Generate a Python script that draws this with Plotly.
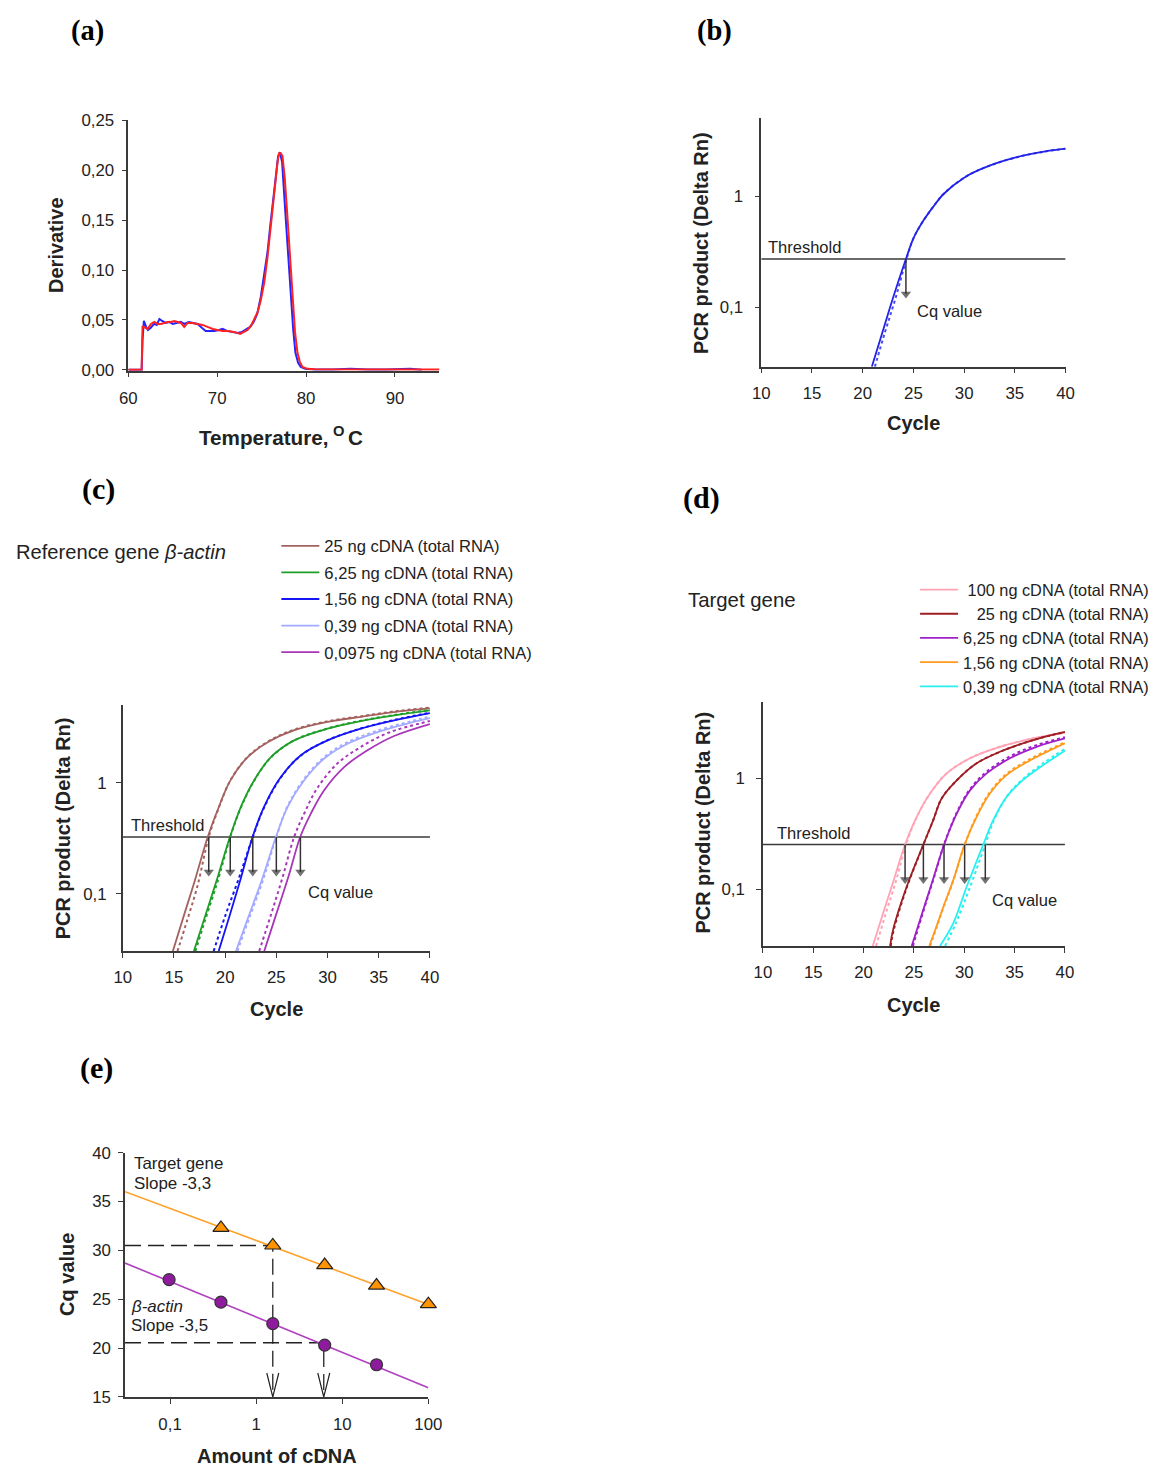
import numpy as np
import plotly.graph_objects as go

W, H = 1163, 1466
# measured mapping of figure pixels onto the photographed page
SX, SY = 0.9815, 0.988
OX, OY = 15.85, 16.0
FIG_W = int(round((W - OX) / SX))
FIG_H = int(round((H - OY) / SY))
FS = 1.0 / SX                   # font compensation
FONT = "Liberation Sans, Arial, Helvetica, sans-serif"
SERIF = "Liberation Serif, Times New Roman, serif"

# ---------------- (a) melt curves ----------------
melt_temp_red = [60, 61.5, 61.6, 61.72, 62.17, 62.55, 62.92, 63.3, 63.67, 64.05,
                 64.42, 64.8, 65.17, 65.55, 65.92, 66.29, 66.67, 67.2, 67.79, 68.35,
                 68.91, 69.5, 70.04, 70.6, 71.16, 71.9, 72.58, 73.0, 73.41, 73.8,
                 74.16, 74.55, 74.91, 75.3, 75.66, 75.95, 76.22, 76.4, 76.59, 76.8,
                 76.97, 77.15, 77.34, 77.6, 77.9, 78.2, 78.46, 78.75, 79.03, 79.3,
                 79.59, 80.15, 81, 83, 86, 89, 92, 95]
melt_deriv_red = [0, 0, 0.044, 0.043, 0.041, 0.046, 0.048, 0.046, 0.046, 0.047,
                  0.048, 0.048, 0.049, 0.048, 0.047, 0.043, 0.047, 0.047, 0.046, 0.045,
                  0.043, 0.041, 0.040, 0.039, 0.039, 0.038, 0.036, 0.038, 0.040, 0.044,
                  0.050, 0.058, 0.070, 0.088, 0.113, 0.137, 0.160, 0.178, 0.196, 0.209,
                  0.217, 0.217, 0.214, 0.192, 0.153, 0.108, 0.070, 0.038, 0.017, 0.008,
                  0.003, 0.001, 0.0005, 0.0003, 0.0005, 0.0004, 0.0003, 0.0003]
melt_temp_blue = [60, 61.5, 61.6, 61.75, 62.0, 62.2, 62.5, 62.9, 63.2, 63.5,
                  63.8, 64.2, 64.6, 65.0, 65.4, 65.9, 66.3, 66.8, 67.3, 67.8,
                  68.3, 68.7, 69.2, 69.7, 70.2, 70.6, 71.1, 71.7, 72.3, 72.8,
                  73.3, 73.7, 74.1, 74.5, 74.9, 75.3, 75.66, 75.95, 76.22, 76.45,
                  76.65, 76.85, 77.05, 77.3, 77.7, 78.0, 78.3, 78.55, 78.8, 79.1,
                  79.4, 79.9, 81, 83, 85, 87, 89, 91.7, 93]
melt_deriv_blue = [0, 0, 0.030, 0.049, 0.043, 0.040, 0.042, 0.046, 0.045, 0.051,
                   0.049, 0.047, 0.048, 0.046, 0.047, 0.048, 0.046, 0.048, 0.047, 0.046,
                   0.042, 0.039, 0.039, 0.039, 0.040, 0.041, 0.039, 0.038, 0.037, 0.038,
                   0.041, 0.043, 0.048, 0.056, 0.073, 0.095, 0.118, 0.143, 0.166, 0.186,
                   0.203, 0.214, 0.218, 0.208, 0.153, 0.110, 0.070, 0.040, 0.017, 0.007,
                   0.003, 0.001, 0.0004, 0.0003, 0.001, 0.0003, 0.0004, 0.001, 0.0002]
a_xticks = [60, 70, 80, 90]
a_yticks = [0, 0.05, 0.10, 0.15, 0.20, 0.25]
a_yticktext = ["0,00", "0,05", "0,10", "0,15", "0,20", "0,25"]

# ---------------- (b) single amplification curve ----------------
b_cycle = [20.9, 22.0, 23.0, 24.26, 25.0, 26.0, 27.0, 28.0, 30.0, 32.0, 35.0, 38.0, 40.0]
b_rn = [0.0292, 0.062, 0.123, 0.273, 0.42, 0.61, 0.82, 1.06, 1.48, 1.82, 2.24, 2.55, 2.7]
b_cycle_dot = [21.2, 22.2, 23.2, 24.3, 25.0, 26.0, 27.0, 28.0, 30.0, 32.0, 35.0, 38.0, 40.0]
b_rn_dot = [0.0292, 0.06, 0.118, 0.27, 0.42, 0.61, 0.82, 1.06, 1.48, 1.82, 2.24, 2.55, 2.7]
b_threshold = 0.273
b_cq = 24.26

cycle_ticks = [10, 15, 20, 25, 30, 35, 40]
log_ticks = [0.1, 1]
log_ticktext = ["0,1", "1"]

# ---------------- (c) reference gene beta-actin ----------------
c_labels = ["25 ng cDNA (total RNA)", "6,25 ng cDNA (total RNA)", "1,56 ng cDNA (total RNA)",
            "0,39 ng cDNA (total RNA)", "0,0975 ng cDNA (total RNA)"]
c_colors = ["#A4625F", "#1F9E2A", "#1414F5", "#A3AAFF", "#A836B8"]
c1_cycle = [14.9, 16.0, 17.0, 18.3, 19.3, 20.5, 22.2, 24.2, 26.7, 30.0, 33.3, 36.5, 40.0]
c1_rn = [0.0305, 0.065, 0.128, 0.326, 0.58, 1.05, 1.71, 2.34, 2.98, 3.55, 3.95, 4.36, 4.7]
c1d_cycle = [15.35, 16.3, 17.3, 18.4, 19.3, 20.5, 22.2, 24.2, 26.7, 30.0, 33.3, 36.5, 40.0]
c1d_rn = [0.0305, 0.058, 0.118, 0.326, 0.57, 1.05, 1.72, 2.37, 3.02, 3.6, 4.0, 4.42, 4.78]
c2_cycle = [16.95, 18.0, 19.2, 20.47, 21.54, 22.84, 24.47, 26.74, 30.0, 33.25, 36.5, 40.0]
c2_rn = [0.0305, 0.061, 0.135, 0.326, 0.61, 1.06, 1.71, 2.42, 3.09, 3.62, 4.07, 4.52]
c2d_cycle = [17.1, 18.1, 19.3, 20.5, 21.54, 22.84, 24.47, 26.74, 30.0, 33.25, 36.5, 40.0]
c2d_rn = [0.0305, 0.06, 0.133, 0.326, 0.6, 1.05, 1.7, 2.42, 3.1, 3.64, 4.1, 4.55]
c3_cycle = [19.37, 20.4, 21.5, 22.68, 23.8, 25.44, 27.4, 30.0, 33.25, 36.5, 40.0]
c3_rn = [0.0305, 0.062, 0.135, 0.326, 0.61, 1.13, 1.78, 2.42, 3.09, 3.67, 4.27]
c3d_cycle = [18.88, 20.0, 21.3, 22.7, 23.8, 25.44, 27.4, 30.0, 33.25, 36.5, 40.0]
c3d_rn = [0.0305, 0.063, 0.135, 0.326, 0.6, 1.12, 1.77, 2.43, 3.1, 3.7, 4.3]
c4_cycle = [21.06, 22.3, 23.6, 24.96, 26.1, 27.72, 29.67, 31.95, 34.88, 38.13, 40.0]
c4_rn = [0.0305, 0.063, 0.135, 0.326, 0.61, 1.06, 1.66, 2.26, 2.88, 3.5, 3.85]
c4d_cycle = [21.2, 22.4, 23.7, 25.0, 26.1, 27.72, 29.67, 31.95, 34.88, 38.13, 40.0]
c4d_rn = [0.0305, 0.062, 0.133, 0.326, 0.62, 1.09, 1.71, 2.33, 2.97, 3.6, 3.97]
c5_cycle = [23.82, 25.0, 26.2, 27.33, 28.37, 29.67, 31.62, 33.9, 36.5, 40.0]
c5_rn = [0.0305, 0.066, 0.145, 0.326, 0.53, 0.86, 1.39, 1.97, 2.65, 3.4]
c5d_cycle = [23.33, 24.5, 25.6, 26.74, 27.8, 29.0, 30.9, 33.2, 36.0, 40.0]
c5d_rn = [0.0305, 0.066, 0.14, 0.326, 0.55, 0.9, 1.48, 2.1, 2.85, 3.62]
c_threshold = 0.326
c_cq = [18.4, 20.5, 22.7, 25.0, 27.35]

# ---------------- (d) target gene ----------------
d_labels = ["\u2008100 ng cDNA (total RNA)", "\u2007\u200825 ng cDNA (total RNA)",
            "6,25 ng cDNA (total RNA)", "1,56 ng cDNA (total RNA)", "0,39 ng cDNA (total RNA)"]
d_colors = ["#FFA3B5", "#9E1E25", "#A020C8", "#FF9A1E", "#28F0F0"]
d1_cycle = [20.91, 22.0, 23.0, 24.12, 25.28, 26.6, 28.25, 30.57, 33.54, 36.85, 40.0]
d1_rn = [0.0306, 0.063, 0.121, 0.253, 0.45, 0.73, 1.11, 1.52, 1.93, 2.3, 2.58]
d1d_cycle = [21.24, 22.2, 23.2, 24.2, 25.3, 26.6, 28.25, 30.57, 33.54, 36.85, 40.0]
d1d_rn = [0.0306, 0.06, 0.117, 0.25, 0.45, 0.73, 1.11, 1.52, 1.93, 2.3, 2.58]
d2_cycle = [22.63, 22.96, 24.28, 25.94, 26.92, 27.76, 29.25, 31.23, 33.54, 36.85, 40.0]
d2_rn = [0.0306, 0.044, 0.105, 0.253, 0.42, 0.66, 0.96, 1.37, 1.74, 2.22, 2.63]
d2d_cycle = [22.7, 23.0, 24.3, 25.95, 26.92, 27.76, 29.25, 31.23, 33.54, 36.85, 40.0]
d2d_rn = [0.0306, 0.043, 0.104, 0.253, 0.42, 0.66, 0.96, 1.37, 1.74, 2.22, 2.63]
d3_cycle = [24.78, 26.0, 27.0, 28.0, 29.25, 30.57, 32.22, 34.54, 37.18, 40.0]
d3_rn = [0.0306, 0.068, 0.131, 0.253, 0.48, 0.78, 1.11, 1.52, 1.93, 2.3]
d3d_cycle = [24.9, 26.0, 27.0, 28.0, 29.25, 30.57, 32.22, 34.54, 37.18, 40.0]
d3d_rn = [0.0306, 0.066, 0.128, 0.253, 0.49, 0.8, 1.15, 1.58, 2.0, 2.36]
d4_cycle = [26.53, 27.2, 27.92, 28.9, 30.04, 31.23, 32.55, 34.2, 36.56, 40.0]
d4_rn = [0.0306, 0.045, 0.069, 0.12, 0.253, 0.45, 0.73, 1.07, 1.46, 2.08]
d4d_cycle = [26.6, 27.25, 27.95, 28.92, 30.05, 31.23, 32.55, 34.2, 36.56, 40.0]
d4d_rn = [0.0306, 0.045, 0.069, 0.12, 0.253, 0.46, 0.75, 1.1, 1.5, 2.12]
d5_cycle = [27.59, 28.9, 30.24, 31.89, 32.88, 34.2, 35.85, 37.84, 40.0]
d5_rn = [0.0306, 0.049, 0.105, 0.253, 0.42, 0.68, 0.97, 1.32, 1.78]
d5d_cycle = [28.09, 29.2, 30.5, 32.09, 33.0, 34.3, 35.9, 37.84, 40.0]
d5d_rn = [0.0306, 0.05, 0.1, 0.253, 0.43, 0.7, 1.0, 1.37, 1.85]
d_threshold = 0.253
d_cq = [24.12, 25.94, 27.99, 30.04, 32.09]

# ---------------- (e) standard curves ----------------
e_amount_target = [0.39, 1.56, 6.25, 25, 100]
e_cq_target = [32.3, 30.5, 28.5, 26.4, 24.5]
e_amount_actin = [0.0975, 0.39, 1.56, 6.25, 25]
e_cq_actin = [27.0, 24.7, 22.5, 20.3, 18.3]
e_fit_x = [0.03, 100]
e_fit_target = [36.0, 24.45]
e_fit_actin = [28.7, 15.95]
e_unknown_target = (1.56, 30.5)
e_unknown_actin = (6.1, 20.55)
e_xticks = [0.1, 1, 10, 100]
e_xticktext = ["0,1", "1", "10", "100"]
e_yticks = [15, 20, 25, 30, 35, 40]


def fx(x):
    return ((x - OX) / SX) / FIG_W


def fy(y):
    return 1 - ((y - OY) / SY) / FIG_H


# panel boxes in reference pixels: (left, right, bottom, top)
BOX_A = (127.3, 438.8, 370, 119.3)
BOX_B = (761, 1065.7, 366, 117)
BOX_C = (121.7, 429.3, 951, 705)
BOX_D = (762.7, 1065, 946, 701.7)
BOX_E = (124, 427.7, 1397.3, 1152.7)
RANGE_B = [-1.534, 0.709]
RANGE_C = [-1.516, 0.70]
RANGE_D = [-1.515, 0.69]
RANGE_E_X = [np.log10(e_fit_x[0]), 2]
RANGE_E_Y = [15, 40]

TICK_FS = 16.5 * FS


def axis_style(**kw):
    d = dict(showline=True, linecolor="#3a3a3a", linewidth=1.5, ticks="outside", ticklen=5,
             tickwidth=1.3, tickcolor="#3a3a3a", showgrid=False, zeroline=False,
             tickfont=dict(family=FONT, size=TICK_FS, color="#222"), mirror=False)
    d.update(kw)
    return d


fig = go.Figure()

# (a)
fig.add_trace(go.Scatter(x=melt_temp_blue, y=melt_deriv_blue, mode="lines",
                         line=dict(color="#2424FF", width=2), xaxis="x", yaxis="y", showlegend=False))
fig.add_trace(go.Scatter(x=melt_temp_red, y=melt_deriv_red, mode="lines",
                         line=dict(color="#FF2222", width=2), xaxis="x", yaxis="y", showlegend=False))


def cq_arrows(cqs, thr, box, rng, xa, ya):
    ppd = (box[2] - box[3]) / (rng[1] - rng[0])      # reference pixels per decade
    tip_center = thr * 10 ** (-35 / ppd)
    for cq in cqs:
        fig.add_trace(go.Scatter(x=[cq, cq], y=[thr, tip_center], mode="lines+markers",
                                 line=dict(color="#333", width=1.5),
                                 marker=dict(symbol="triangle-down", size=[0, 9], color="#333",
                                             line=dict(width=0)),
                                 xaxis=xa, yaxis=ya, showlegend=False, cliponaxis=False))


# (b)
fig.add_trace(go.Scatter(x=[10, 40], y=[b_threshold, b_threshold], mode="lines",
                         line=dict(color="#3a3a3a", width=1.5), xaxis="x2", yaxis="y2", showlegend=False))
fig.add_trace(go.Scatter(x=b_cycle_dot, y=b_rn_dot, mode="lines", line_shape="spline",
                         line=dict(color="#4A4AF5", width=2, dash="dot"), xaxis="x2", yaxis="y2",
                         showlegend=False))
fig.add_trace(go.Scatter(x=b_cycle, y=b_rn, mode="lines", line_shape="spline",
                         line=dict(color="#2323E8", width=1.8), xaxis="x2", yaxis="y2", showlegend=False))
cq_arrows([b_cq], b_threshold, BOX_B, RANGE_B, "x2", "y2")

# (c)
fig.add_trace(go.Scatter(x=[10, 40], y=[c_threshold, c_threshold], mode="lines",
                         line=dict(color="#3a3a3a", width=1.5), xaxis="x3", yaxis="y3", showlegend=False))
c_solid = [(c1_cycle, c1_rn), (c2_cycle, c2_rn), (c3_cycle, c3_rn), (c4_cycle, c4_rn), (c5_cycle, c5_rn)]
c_dotted = [(c1d_cycle, c1d_rn), (c2d_cycle, c2d_rn), (c3d_cycle, c3d_rn), (c4d_cycle, c4d_rn), (c5d_cycle, c5d_rn)]
for i in range(5):
    fig.add_trace(go.Scatter(x=c_solid[i][0], y=c_solid[i][1], mode="lines", line_shape="spline",
                             line=dict(color=c_colors[i], width=1.8), xaxis="x3", yaxis="y3",
                             name=c_labels[i], legend="legend", legendgroup="c%d" % i))
    fig.add_trace(go.Scatter(x=c_dotted[i][0], y=c_dotted[i][1], mode="lines", line_shape="spline",
                             line=dict(color=c_colors[i], width=2.0, dash="dot"), xaxis="x3", yaxis="y3",
                             showlegend=False, legendgroup="c%d" % i))
cq_arrows(c_cq, c_threshold, BOX_C, RANGE_C, "x3", "y3")

# (d)
fig.add_trace(go.Scatter(x=[10, 40], y=[d_threshold, d_threshold], mode="lines",
                         line=dict(color="#3a3a3a", width=1.5), xaxis="x4", yaxis="y4", showlegend=False))
d_solid = [(d1_cycle, d1_rn), (d2_cycle, d2_rn), (d3_cycle, d3_rn), (d4_cycle, d4_rn), (d5_cycle, d5_rn)]
d_dotted = [(d1d_cycle, d1d_rn), (d2d_cycle, d2d_rn), (d3d_cycle, d3d_rn), (d4d_cycle, d4d_rn), (d5d_cycle, d5d_rn)]
for i in range(5):
    fig.add_trace(go.Scatter(x=d_solid[i][0], y=d_solid[i][1], mode="lines", line_shape="spline",
                             line=dict(color=d_colors[i], width=1.8), xaxis="x4", yaxis="y4",
                             name=d_labels[i], legend="legend2", legendgroup="d%d" % i))
    fig.add_trace(go.Scatter(x=d_dotted[i][0], y=d_dotted[i][1], mode="lines", line_shape="spline",
                             line=dict(color=d_colors[i], width=2.0, dash="dot"), xaxis="x4", yaxis="y4",
                             showlegend=False, legendgroup="d%d" % i))
cq_arrows(d_cq, d_threshold, BOX_D, RANGE_D, "x4", "y4")

# (e)
dash_style = dict(color="#222", width=1.3, dash="16px,7px")
for (ux, uy) in (e_unknown_target, e_unknown_actin):
    fig.add_trace(go.Scatter(x=[e_fit_x[0], ux, ux], y=[uy, uy, RANGE_E_Y[0]], mode="lines",
                             line=dash_style, xaxis="x5", yaxis="y5", showlegend=False))
fig.add_trace(go.Scatter(x=e_fit_x, y=e_fit_target, mode="lines", line=dict(color="#FFA12A", width=1.6),
                         xaxis="x5", yaxis="y5", showlegend=False))
fig.add_trace(go.Scatter(x=e_fit_x, y=e_fit_actin, mode="lines", line=dict(color="#B040C0", width=1.6),
                         xaxis="x5", yaxis="y5", showlegend=False))
fig.add_trace(go.Scatter(x=e_amount_target, y=e_cq_target, mode="markers",
                         marker=dict(symbol="triangle-up", size=14, color="#FF9400",
                                     line=dict(color="#222", width=1.2)),
                         xaxis="x5", yaxis="y5", showlegend=False, cliponaxis=False))
fig.add_trace(go.Scatter(x=e_amount_actin, y=e_cq_actin, mode="markers",
                         marker=dict(symbol="circle", size=12, color="#8E1A9E",
                                     line=dict(color="#333", width=1.2)),
                         xaxis="x5", yaxis="y5", showlegend=False, cliponaxis=False))
# open "V" arrow heads at the bottom of the dashed drop lines
ppd_e = (BOX_E[1] - BOX_E[0]) / (RANGE_E_X[1] - RANGE_E_X[0])
ppu_e = (BOX_E[2] - BOX_E[3]) / (RANGE_E_Y[1] - RANGE_E_Y[0])
for (ux, uy) in (e_unknown_target, e_unknown_actin):
    fig.add_trace(go.Scatter(x=[ux * 10 ** (-6 / ppd_e), ux, ux * 10 ** (6 / ppd_e)],
                             y=[RANGE_E_Y[0] + 24 / ppu_e, RANGE_E_Y[0], RANGE_E_Y[0] + 24 / ppu_e],
                             mode="lines", line=dict(color="#222", width=1.2),
                             xaxis="x5", yaxis="y5", showlegend=False, cliponaxis=False))

ann = []


def text(t, x, y, size=16, xanchor="center", yanchor="middle", angle=0, family=FONT, color="#222"):
    ann.append(dict(text=t, x=fx(x), y=fy(y), xref="paper", yref="paper", showarrow=False,
                    xanchor=xanchor, yanchor=yanchor, textangle=angle,
                    font=dict(family=family, size=size * FS, color=color)))


# panel labels (top ones kept just inside the drawable area)
text("<b>(a)</b>", 86, 12, size=28, family=SERIF, color="#000", yanchor="top")
text("<b>(b)</b>", 714, 12, size=28, family=SERIF, color="#000", yanchor="top")
for lab, x, y in (("(c)", 97, 488), ("(d)", 701, 497), ("(e)", 95, 1068)):
    text("<b>%s</b>" % lab, x, y, size=29.5, family=SERIF, color="#000")

# axis titles
TT = 19.6
text("<b>Derivative</b>", 55, 245, size=TT, angle=-90)
text("<b>Temperature,</b>", 329, 436.5, size=20.3, xanchor="right")
text("<b>O</b>", 338.5, 430, size=14.5)
text("<b>C</b>", 345, 436.5, size=20.3, xanchor="left")
text("<b>PCR product (Delta Rn)</b>", 700, 242, size=TT, angle=-90)
text("<b>Cycle</b>", 913, 422, size=TT)
text("<b>PCR product (Delta Rn)</b>", 62, 828, size=TT, angle=-90)
text("<b>Cycle</b>", 276, 1009, size=TT)
text("<b>PCR product (Delta Rn)</b>", 703, 822, size=TT, angle=-90)
text("<b>Cycle</b>", 913, 1005, size=TT)
text("<b>Cq value</b>", 66, 1275, size=TT, angle=-90)
text("<b>Amount of cDNA</b>", 276, 1456, size=TT)

# in-plot texts
IT = 16.2
text("Threshold", 766, 246, size=IT, xanchor="left")
text("Cq value", 915, 310, size=IT, xanchor="left")
text("Threshold", 128, 825, size=IT, xanchor="left")
text("Cq value", 305, 892, size=IT, xanchor="left")
text("Threshold", 775, 833, size=IT, xanchor="left")
text("Cq value", 990, 900, size=IT, xanchor="left")
text("Reference gene <i>\u03b2-actin</i>", 13, 552, size=19.8, xanchor="left")
text("Target gene", 686, 600, size=20, xanchor="left")
text("Target gene", 131, 1164, size=16.6, xanchor="left")
text("Slope -3,3", 131, 1184, size=16.6, xanchor="left")
text("<i>\u03b2-actin</i>", 128, 1307, size=16.6, xanchor="left")
text("Slope -3,5", 128, 1326, size=16.6, xanchor="left")

fig.update_layout(
    width=FIG_W, height=FIG_H, margin=dict(l=0, r=0, t=0, b=0),
    paper_bgcolor="white", plot_bgcolor="rgba(0,0,0,0)",
    font=dict(family=FONT, size=16, color="#222"),
    showlegend=True,
    xaxis=axis_style(domain=[fx(BOX_A[0]), fx(BOX_A[1])], range=[60, 95], anchor="y",
                     tickvals=a_xticks, ticklabelstandoff=6),
    yaxis=axis_style(domain=[fy(BOX_A[2]), fy(BOX_A[3])], range=[-0.0008, 0.25], anchor="x",
                     tickvals=a_yticks, ticktext=a_yticktext, ticklabelstandoff=4),
    xaxis2=axis_style(domain=[fx(BOX_B[0]), fx(BOX_B[1])], range=[10, 40], anchor="y2",
                      tickvals=cycle_ticks, ticklabelstandoff=5),
    yaxis2=axis_style(type="log", domain=[fy(BOX_B[2]), fy(BOX_B[3])], range=RANGE_B, anchor="x2",
                      tickvals=log_ticks, ticktext=log_ticktext, ticklabelstandoff=8),
    xaxis3=axis_style(domain=[fx(BOX_C[0]), fx(BOX_C[1])], range=[10, 40], anchor="y3",
                      tickvals=cycle_ticks, ticklabelstandoff=5),
    yaxis3=axis_style(type="log", domain=[fy(BOX_C[2]), fy(BOX_C[3])], range=RANGE_C, anchor="x3",
                      tickvals=log_ticks, ticktext=log_ticktext, ticklabelstandoff=6),
    xaxis4=axis_style(domain=[fx(BOX_D[0]), fx(BOX_D[1])], range=[10, 40], anchor="y4",
                      tickvals=cycle_ticks, ticklabelstandoff=5),
    yaxis4=axis_style(type="log", domain=[fy(BOX_D[2]), fy(BOX_D[3])], range=RANGE_D, anchor="x4",
                      tickvals=log_ticks, ticktext=log_ticktext, ticklabelstandoff=8),
    xaxis5=axis_style(type="log", domain=[fx(BOX_E[0]), fx(BOX_E[1])], range=RANGE_E_X,
                      anchor="y5", tickvals=e_xticks, ticktext=e_xticktext, ticklabelstandoff=6),
    yaxis5=axis_style(domain=[fy(BOX_E[2]), fy(BOX_E[3])], range=RANGE_E_Y, anchor="x5",
                      tickvals=e_yticks, ticklabelstandoff=4),
    legend=dict(x=fx(275.5), y=fy(528), xanchor="left", yanchor="top", bgcolor="rgba(0,0,0,0)",
                font=dict(family=FONT, size=16.3 * FS, color="#222"), tracegroupgap=2,
                traceorder="grouped", itemwidth=38),
    legend2=dict(x=fx(915), y=fy(572), xanchor="left", yanchor="top", bgcolor="rgba(0,0,0,0)",
                 font=dict(family=FONT, size=16.0 * FS, color="#222"), tracegroupgap=0,
                 traceorder="grouped", itemwidth=38),
    annotations=ann,
)

fig.write_html("out.html")
